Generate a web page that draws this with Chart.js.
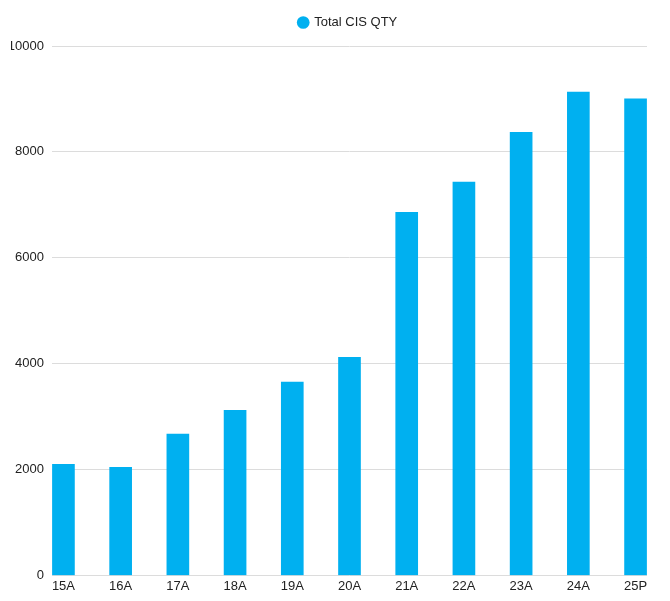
<!DOCTYPE html>
<html>
<head>
<meta charset="utf-8">
<script src="https://cdn.jsdelivr.net/npm/chart.js@4/dist/chart.umd.min.js"></script>
<style>
  html, body { margin: 0; padding: 0; background: #fff; }
  #wrap { position: absolute; left: 11px; top: 0; width: 659px; height: 601px; }
</style>
</head>
<body>
<div id="wrap"><canvas id="cisChart"></canvas></div>
<script>
const categories = ['15A', '16A', '17A', '18A', '19A', '20A', '21A', '22A', '23A', '24A', '25P'];
const cisQty = [2100, 2040, 2670, 3120, 3650, 4120, 6860, 7430, 8370, 9130, 9000];
const yTicks = [0, 2000, 4000, 6000, 8000, 10000];

let cisChart;

// extra room under the legend, legend sits a bit right of centre
const legendGap = {
  id: 'legendGap',
  beforeInit(chart) {
    const fit = chart.legend.fit;
    chart.legend.fit = function () {
      fit.bind(chart.legend)();
      this.height += 7;
    };
  },
  afterLayout(chart) {
    chart.legend.left += 19;
    chart.legend.right += 19;
  },
};

function createCisChart() {
  if (cisChart) {
    cisChart.destroy();
  }
  const ctx = document.getElementById('cisChart').getContext('2d');
  cisChart = new Chart(ctx, {
    type: 'bar',
    data: {
      datasets: [{
        label: 'Total CIS QTY',
        data: categories.map((c, i) => ({ x: i, y: cisQty[i] })),
        backgroundColor: '#00b0f0',
        borderWidth: 0,
        barThickness: 22,
      }]
    },
    options: {
      responsive: true,
      maintainAspectRatio: false,
      animation: false,
      layout: {
        padding: { left: 0, right: 23, top: 0, bottom: 4 },
      },
      plugins: {
        legend: {
          position: 'top',
          labels: {
            usePointStyle: true,
            pointStyle: 'circle',
            boxWidth: 9,
            boxHeight: 9,
            padding: 16,
            color: '#222',
            font: { family: 'Liberation Sans', size: 13 },
          },
        },
        tooltip: { enabled: false },
      },
      scales: {
        x: {
          type: 'linear',
          offset: false,
          min: -0.2,
          max: 10.2,
          grid: { display: false, drawTicks: false },
          border: { display: false },
          ticks: {
            stepSize: 1,
            includeBounds: false,
            autoSkip: false,
            maxRotation: 0,
            padding: 3,
            color: '#222',
            font: { family: 'Liberation Sans', size: 13 },
            callback: (v) => categories[v],
          },
        },
        y: {
          min: 0,
          max: 10000,
          grid: { color: '#dcdcdc', drawTicks: false },
          border: { display: false },
          afterBuildTicks: (scale) => {
            scale.ticks = yTicks.map((v) => ({ value: v }));
          },
          afterFit: (scale) => {
            scale.width = 41;
          },
          ticks: {
            padding: 8,
            color: '#222',
            font: { family: 'Liberation Sans', size: 13 },
            callback: (v) => String(v),
          },
        },
      },
    },
    plugins: [legendGap],
  });
}

createCisChart();
</script>
</body>
</html>
